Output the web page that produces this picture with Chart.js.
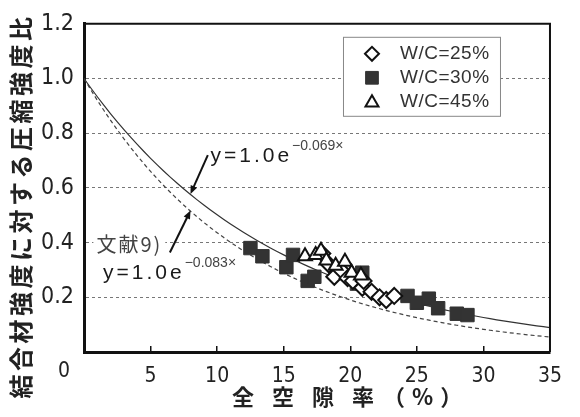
<!DOCTYPE html>
<html lang="ja">
<head>
<meta charset="utf-8">
<title>全空隙率と圧縮強度比</title>
<script src="https://cdn.jsdelivr.net/npm/chart.js@4.4.1/dist/chart.umd.min.js"></script>
<style>
	html, body { margin: 0; padding: 0; background: #fff; }
	#wrap { position: relative; width: 580px; height: 417px; }
</style>
</head>
<body>
<div id="wrap"><canvas id="ratioChart"></canvas></div>
<script>
// データ
const wc25X = [17.9, 18.4, 18.8, 19.3, 19.8, 20.2, 20.9, 21.0, 21.6, 22.2, 22.7, 23.3];
const wc25Y = [0.36, 0.32, 0.275, 0.30, 0.27, 0.26, 0.235, 0.26, 0.22, 0.20, 0.19, 0.205];

const wc30X = [12.5, 13.4, 15.2, 15.7, 16.8, 17.3, 20.5, 20.9, 24.3, 25.0, 25.9, 26.6, 28.0, 28.8];
const wc30Y = [0.38, 0.35, 0.31, 0.355, 0.26, 0.275, 0.25, 0.29, 0.205, 0.18, 0.195, 0.16, 0.14, 0.135];

const wc45X = [16.6, 17.4, 17.8, 18.2, 18.9, 19.6, 20.1, 20.8];
const wc45Y = [0.35, 0.355, 0.37, 0.335, 0.315, 0.33, 0.29, 0.28];

const seriesLabels = ["W/C=25%", "W/C=30%", "W/C=45%"];
const xTicks = [0, 5, 10, 15, 20, 25, 30, 35];
const yTicks = [0, 0.2, 0.4, 0.6, 0.8, 1.0, 1.2];

// 近似式 y = 1.0 e^(k x)：本研究 / 文献9)
const fitA = [1.0, 1.0];
const fitK = [-0.069, -0.083];

const TICK_FONT = "'Liberation Sans Narrow', 'DejaVu Sans Condensed', 'Liberation Sans', Arial, sans-serif";
const JP_FONT = "'Noto Sans CJK JP', 'Noto Sans CJK SC', sans-serif";

function toPoints(xs, ys) {
	return xs.map((x, i) => ({ x: x, y: ys[i] }));
}

function fitPoints(a, k) {
	const pts = [];
	for (let x = 0; x <= 35.001; x += 0.5) {
		pts.push({ x: x, y: a * Math.exp(k * x) });
	}
	return pts;
}

// 注記（データ座標）
const notes = {
	eq1: { x: 9.5, y: 0.693, exp: "−0.069×" },
	eq2: { x: 1.43, y: 0.268, exp: "−0.083×" },
	ref: { x: 0.93, y: 0.393, text: "文献9)" },
	arrow1: { from: [9.3, 0.72], to: [8.0, 0.578] },
	arrow2: { from: [6.45, 0.364], to: [8.0, 0.517] },
};

// 枠線・軸タイトル・凡例・注記を描くプラグイン
const decorPlugin = {
	id: "decor",
	afterDatasetsDraw(chart) {
		const { ctx, chartArea, scales } = chart;
		const xs = scales.x, ys = scales.y;
		const px = (v) => xs.getPixelForValue(v);
		const py = (v) => ys.getPixelForValue(v);

		ctx.save();

		// 上・右の枠
		ctx.strokeStyle = "#111";
		ctx.lineWidth = 2;
		ctx.beginPath();
		ctx.moveTo(chartArea.left, chartArea.top);
		ctx.lineTo(chartArea.right, chartArea.top);
		ctx.lineTo(chartArea.right, chartArea.bottom);
		ctx.stroke();

		// 矢印
		const drawArrow = (a) => {
			const x1 = px(a.from[0]), y1 = py(a.from[1]);
			const x2 = px(a.to[0]), y2 = py(a.to[1]);
			const ang = Math.atan2(y2 - y1, x2 - x1);
			const head = 9;
			ctx.strokeStyle = "#111";
			ctx.fillStyle = "#111";
			ctx.lineWidth = 2;
			ctx.beginPath();
			ctx.moveTo(x1, y1);
			ctx.lineTo(x2 - Math.cos(ang) * head * 0.8, y2 - Math.sin(ang) * head * 0.8);
			ctx.stroke();
			ctx.beginPath();
			ctx.moveTo(x2, y2);
			ctx.lineTo(x2 - head * Math.cos(ang - 0.4), y2 - head * Math.sin(ang - 0.4));
			ctx.lineTo(x2 - head * Math.cos(ang + 0.4), y2 - head * Math.sin(ang + 0.4));
			ctx.closePath();
			ctx.fill();
		};
		drawArrow(notes.arrow1);
		drawArrow(notes.arrow2);

		// 式
		const drawEq = (n) => {
			const x = px(n.x), y = py(n.y);
			ctx.font = "21px 'Liberation Sans', Arial, sans-serif";
			ctx.letterSpacing = "3px";
			ctx.fillStyle = "#1a1a1a";
			ctx.textAlign = "left";
			ctx.textBaseline = "alphabetic";
			ctx.fillText("y=1.0e", x, y);
			const w = ctx.measureText("y=1.0e").width;
			ctx.font = "14px 'Liberation Sans', Arial, sans-serif";
			ctx.letterSpacing = "0px";
			ctx.fillStyle = "#444";
			ctx.fillText(n.exp, x + w, y - 12);
		};
		drawEq(notes.eq1);
		drawEq(notes.eq2);

		// 文献9)
		ctx.font = "20px " + JP_FONT;
		ctx.letterSpacing = "2px";
		ctx.textBaseline = "middle";
		const rx = px(notes.ref.x), ry = py(notes.ref.y);
		const rw = ctx.measureText(notes.ref.text).width;
		ctx.fillStyle = "#fff";
		ctx.fillRect(rx - 3, ry - 11, rw + 6, 22);
		ctx.fillStyle = "#444";
		ctx.fillText(notes.ref.text, rx, ry);
		ctx.letterSpacing = "0px";

		// 凡例
		const lx = chartArea.right - 207, ly = chartArea.top + 13;
		const lw = 157, lh = 79;
		ctx.fillStyle = "#fff";
		ctx.fillRect(lx, ly, lw, lh);
		ctx.strokeStyle = "#888";
		ctx.lineWidth = 1;
		ctx.strokeRect(lx + 0.5, ly + 0.5, lw, lh);
		const legendStyles = [
			{ pointStyle: "rectRot", radius: 7, bg: "#fff", border: "#111", bw: 2 },
			{ pointStyle: "rect", radius: 9, bg: "#333", border: "#333", bw: 1 },
			{ pointStyle: "triangle", radius: 7.5, bg: "#fff", border: "#111", bw: 2 },
		];
		ctx.font = "19px 'Liberation Sans', Arial, sans-serif";
		ctx.letterSpacing = "0.5px";
		ctx.textBaseline = "middle";
		seriesLabels.forEach((label, i) => {
			const cy = ly + 17 + i * 24;
			const st = legendStyles[i];
			ctx.fillStyle = st.bg;
			ctx.strokeStyle = st.border;
			ctx.lineWidth = st.bw;
			Chart.helpers.drawPoint(ctx, { pointStyle: st.pointStyle, radius: st.radius, borderWidth: st.bw, rotation: 0 }, lx + 29, cy + (i === 2 ? 1 : 0));
			ctx.fillStyle = "#333";
			ctx.fillText(label, lx + 57, cy);
		});
		ctx.letterSpacing = "0px";

		ctx.restore();
	},
	afterDraw(chart) {
		const { ctx, chartArea, scales } = chart;
		ctx.save();
		// x 軸の「0」（原図では左下にずれている）
		ctx.font = "21px " + TICK_FONT;
		ctx.fillStyle = "#222";
		ctx.textAlign = "center";
		ctx.textBaseline = "middle";
		ctx.fillText("0", scales.x.getPixelForValue(0) - 20, chartArea.bottom + 20);

		// x 軸タイトル
		ctx.font = "bold 22px " + JP_FONT;
		ctx.textAlign = "left";
		ctx.fillStyle = "#222";
		ctx.letterSpacing = "18px";
		ctx.fillText("全空隙率", chartArea.left + 148, chartArea.bottom + 45);
		ctx.letterSpacing = "7px";
		ctx.fillText("（%）", chartArea.left + 299, chartArea.bottom + 45);

		// y 軸タイトル（縦）
		ctx.translate(21, 206);
		ctx.rotate(-Math.PI / 2);
		ctx.font = "bold 24px " + JP_FONT;
		ctx.letterSpacing = "3.5px";
		ctx.textAlign = "center";
		ctx.fillText("結合材強度に対する圧縮強度比", 0, 0);
		ctx.restore();
	},
};

document.addEventListener("DOMContentLoaded", function() {
	const el = document.getElementById("ratioChart");
	new Chart(el.getContext("2d"), {
		type: "scatter",
		data: {
			datasets: [
				{
					label: seriesLabels[2],
					data: toPoints(wc45X, wc45Y),
					pointStyle: "triangle",
					pointRadius: 8,
					backgroundColor: "#fff",
					borderColor: "#111",
					borderWidth: 2,
					order: 1,
				},
				{
					label: seriesLabels[0],
					data: toPoints(wc25X, wc25Y),
					pointStyle: "rectRot",
					pointRadius: 8,
					backgroundColor: "#fff",
					borderColor: "#111",
					borderWidth: 2,
					order: 2,
				},
				{
					label: seriesLabels[1],
					data: toPoints(wc30X, wc30Y),
					pointStyle: "rect",
					pointRadius: 9.5,
					backgroundColor: "#333",
					borderColor: "#333",
					borderWidth: 1,
					order: 3,
				},
				{
					label: "fit",
					data: fitPoints(fitA[0], fitK[0]),
					showLine: true,
					pointRadius: 0,
					borderColor: "#333",
					borderWidth: 1.2,
					fill: false,
					order: 4,
				},
				{
					label: "ref",
					data: fitPoints(fitA[1], fitK[1]),
					showLine: true,
					pointRadius: 0,
					borderColor: "#444",
					borderWidth: 1.2,
					borderDash: [4, 3],
					fill: false,
					order: 5,
				},
			],
		},
		options: {
			responsive: true,
			maintainAspectRatio: false,
			animation: false,
			layout: { padding: { left: 0, right: 5, top: 15, bottom: 0 } },
			scales: {
				x: {
					type: "linear",
					min: 0,
					max: 35,
					afterBuildTicks: (axis) => { axis.ticks = xTicks.map((v) => ({ value: v })); },
					afterFit: (axis) => { axis.height = 65; },
					ticks: {
						callback: (v) => (v === 0 ? "" : String(v)),
						font: { family: TICK_FONT, size: 21 },
						color: "#222",
						padding: 18,
						maxRotation: 0,
						autoSkip: false,
					},
					grid: {
						drawOnChartArea: false,
						drawTicks: true,
						tickLength: -6,
						color: (c) => (c.tick && (c.tick.value === 0 || c.tick.value === 35) ? "transparent" : "#111"),
						lineWidth: 1.5,
					},
					border: { display: true, color: "#111", width: 3 },
				},
				y: {
					type: "linear",
					min: 0,
					max: 1.2,
					afterBuildTicks: (axis) => { axis.ticks = yTicks.map((v) => ({ value: v })); },
					afterFit: (axis) => { axis.width = 84; },
					ticks: {
						callback: (v) => (v === 0 ? "" : v.toFixed(1)),
						font: { family: TICK_FONT, size: 23 },
						color: "#222",
						padding: 10,
					},
					grid: {
						drawTicks: false,
						color: (c) => (c.tick && (c.tick.value === 0 || c.tick.value === 1.2) ? "transparent" : "#777"),
						lineWidth: 1,
					},
					border: { display: true, color: "#111", width: 3, dash: [3, 3] },
				},
			},
			plugins: {
				legend: { display: false },
				tooltip: { enabled: false },
			},
		},
		plugins: [decorPlugin],
	});
});
</script>
</body>
</html>
